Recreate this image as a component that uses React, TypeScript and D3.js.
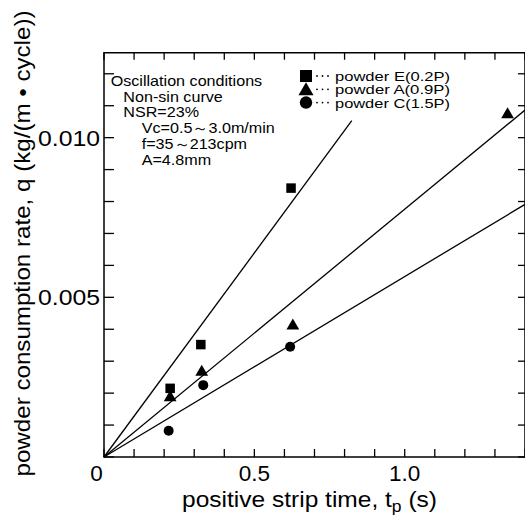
import React from "react";
import * as d3 from "d3";

// Data
const tpE = [0.22, 0.322, 0.622];
const qE = [0.00215, 0.00352, 0.00842];
const tpA = [0.22, 0.325, 0.628, 1.342];
const qA = [0.0019, 0.0027, 0.00415, 0.01076];
const tpC = [0.215, 0.33, 0.619];
const qC = [0.00082, 0.00225, 0.00345];

// Regression lines through the origin: slope and end time
const fitSlopes = [0.01278, 0.00776, 0.00565];
const fitEnds = [0.824, 1.4, 1.4];

const xTickLabels = [0, 0.5, 1.0];
const yTickLabels = [0.005, 0.01];

const conditions = [
  { text: "Oscillation conditions", indent: 0 },
  { text: "Non-sin curve", indent: 1 },
  { text: "NSR=23%", indent: 1 },
  { text: "Vc=0.5～3.0m/min", indent: 2 },
  { text: "f=35～213cpm", indent: 2 },
  { text: "A=4.8mm", indent: 2 },
];
const legendLabels = ["powder E(0.2P)", "powder A(0.9P)", "powder C(1.5P)"];

const W = 525;
const H = 527;
const L = 104;
const R = 525;
const T = 52.7;
const B = 457;

export default function App() {
  const x = d3.scaleLinear().domain([0, 1.4]).range([L, R]);
  const y = d3.scaleLinear().domain([0, 0.01266]).range([B, T]);
  const font = "Liberation Sans, Arial, Helvetica, sans-serif";

  const xMinor = d3.range(0, 1.41, 0.1);
  const yMinor = d3.range(0, 0.0126, 0.001);

  const line = d3.line<[number, number]>().x((d) => x(d[0])).y((d) => y(d[1]));

  const sq = (cx: number, cy: number, s: number, k: string) => (
    <rect key={k} x={cx - s / 2} y={cy - s / 2} width={s} height={s} fill="#000" />
  );
  const tri = (cx: number, cy: number, s: number, k: string) => (
    <path
      key={k}
      d={`M${cx},${cy - s * 0.55} L${cx + s * 0.58},${cy + s * 0.45} L${cx - s * 0.58},${cy + s * 0.45} Z`}
      fill="#000"
    />
  );
  const circ = (cx: number, cy: number, s: number, k: string) => (
    <circle key={k} cx={cx} cy={cy} r={s / 2} fill="#000" />
  );

  return (
    <svg
      width={W}
      height={H}
      style={{ position: "absolute", left: 0, top: 0, background: "#fff" }}
      fontFamily={font}
    >
      <rect width={W} height={H} fill="#fff" />
      {/* frame */}
      <path d={`M${L},${B} L${L},${T} L${R},${T} L${R},${B} Z`} fill="none" stroke="#000" strokeWidth={1.5} />

      {/* x ticks bottom and top */}
      {xMinor.map((v, i) => (
        <g key={"xt" + i}>
          <line x1={x(v)} x2={x(v)} y1={B} y2={B - 8} stroke="#000" strokeWidth={1.3} />
          <line x1={x(v)} x2={x(v)} y1={T} y2={T + 7} stroke="#000" strokeWidth={1.3} />
        </g>
      ))}
      {/* y ticks left and right */}
      {yMinor.map((v, i) => (
        <g key={"yt" + i}>
          <line x1={L} x2={L + 10} y1={y(v)} y2={y(v)} stroke="#000" strokeWidth={1.3} />
          <line x1={R} x2={R - 7} y1={y(v)} y2={y(v)} stroke="#000" strokeWidth={1.3} />
        </g>
      ))}

      {/* tick labels */}
      {xTickLabels.map((v, i) => (
        <text
          key={"xl" + i}
          x={v === 0 ? x(v) - 7.5 : x(v)}
          y={480.5}
          fontSize={22.5}
          textAnchor="middle"
        >
          {v === 0 ? "0" : d3.format(".1f")(v)}
        </text>
      ))}
      {yTickLabels.map((v, i) => (
        <text key={"yl" + i} x={100} y={y(v) + 8} fontSize={22.5} textAnchor="end" textLength={62} lengthAdjust="spacingAndGlyphs">
          {d3.format(".3f")(v)}
        </text>
      ))}

      {/* axis titles */}
      <text x={182} y={507} fontSize={22.5} textLength={255} lengthAdjust="spacingAndGlyphs">
        positive strip time, t
        <tspan fontSize={16} dy={5}>p</tspan>
        <tspan dy={-5}> (s)</tspan>
      </text>
      <text
        transform={`translate(30,243.5) rotate(-90)`}
        fontSize={22}
        textAnchor="middle"
        textLength={466}
        lengthAdjust="spacingAndGlyphs"
      >
        powder consumption rate, q (kg/(m • cycle))
      </text>

      {/* fit lines */}
      {fitSlopes.map((s, i) => (
        <path
          key={"fit" + i}
          d={line([
            [0, 0],
            [fitEnds[i], s * fitEnds[i]],
          ]) as string}
          fill="none"
          stroke="#000"
          strokeWidth={1.3}
        />
      ))}

      {/* data points */}
      {tpE.map((t, i) => sq(x(t), y(qE[i]), 9.5, "e" + i))}
      {tpA.map((t, i) => tri(x(t), y(qA[i]), 11, "a" + i))}
      {tpC.map((t, i) => circ(x(t), y(qC[i]), 10, "c" + i))}

      {/* conditions text */}
      {conditions.map((c, i) => (
        <text
          key={"cond" + i}
          transform={`translate(${c.indent === 0 ? 110.7 : c.indent === 1 ? 123.3 : 141.7},${86 + i * 15.7}) scale(1.17,1)`}
          fontSize={13.8}
        >
          {c.text}
        </text>
      ))}

      {/* legend */}
      {legendLabels.map((lab, i) => {
        const cy = 76 + i * 13.3;
        const m =
          i === 0 ? sq(306, cy, 12, "lm" + i) : i === 1 ? tri(306, cy, 13, "lm" + i) : circ(306, cy, 12.5, "lm" + i);
        return (
          <g key={"leg" + i}>
            {m}
            {[0, 1, 2].map((j) => (
              <circle key={j} cx={317 + j * 5.5} cy={cy} r={0.9} fill="#000" />
            ))}
            <text x={335} y={cy + 5} fontSize={12.2} textLength={115} lengthAdjust="spacingAndGlyphs">
              {lab}
            </text>
          </g>
        );
      })}
    </svg>
  );
}
